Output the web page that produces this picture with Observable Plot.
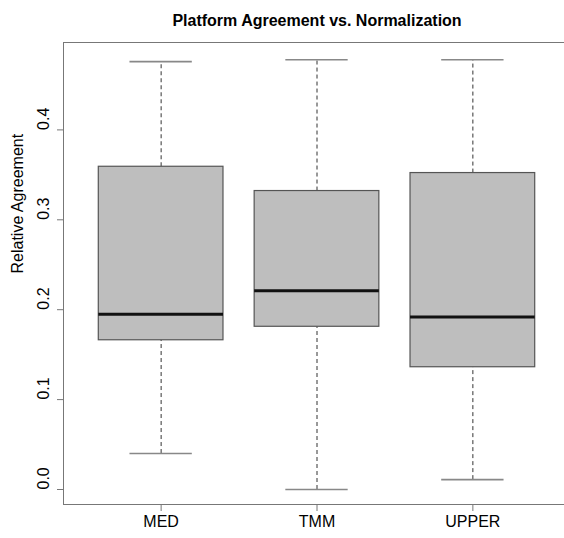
<!DOCTYPE html>
<html>
<head>
<meta charset="utf-8">
<script src="https://cdn.jsdelivr.net/npm/d3@7"></script>
<script src="https://cdn.jsdelivr.net/npm/@observablehq/plot@0.6"></script>
<style>
  html, body { margin: 0; padding: 0; background: #fff; overflow: hidden; }
  #chart { width: 564px; height: 538px; overflow: hidden; }
  #chart svg { display: block; max-width: none !important; }
</style>
</head>
<body>
<div id="chart"></div>
<script>
const title = "Platform Agreement vs. Normalization";
const yLabel = "Relative Agreement";
const categories = ["MED", "TMM", "UPPER"];
const whiskerLow  = [0.040, 0.000, 0.011];
const q1          = [0.166, 0.181, 0.136];
const median      = [0.195, 0.221, 0.192];
const q3          = [0.359, 0.332, 0.352];
const whiskerHigh = [0.476, 0.478, 0.478];
const yTicks = [0.0, 0.1, 0.2, 0.3, 0.4];

const rows = categories.map((c, i) => ({
  cat: c, pos: i + 1,
  lo: whiskerLow[i], q1: q1[i], med: median[i], q3: q3[i], hi: whiskerHigh[i]
}));

const font = "'Liberation Sans', Arial, Helvetica, sans-serif";
const boxHalf = 0.4, stapleHalf = 0.2;

const chart = Plot.plot({
  width: 580,
  height: 538,
  marginLeft: 63,
  marginRight: 0,
  marginTop: 42,
  marginBottom: 34,
  style: { fontFamily: font, background: "#fff", color: "#000", maxWidth: "none" },
  x: { type: "linear", domain: [0.38, 3.62], range: [64, 569] },
  y: { type: "linear", domain: [0, 0.4], range: [489, 129.4] },
  marks: [
    Plot.frame({ stroke: "#777", strokeWidth: 1, insetRight: -40 }),
    // whiskers (dashed)
    Plot.ruleX(rows, { x: "pos", y1: "q3", y2: "hi", stroke: "#333", strokeDasharray: "4,3", strokeWidth: 1 }),
    Plot.ruleX(rows, { x: "pos", y1: "lo", y2: "q1", stroke: "#333", strokeDasharray: "4,3", strokeWidth: 1 }),
    // staples
    Plot.ruleY(rows, { y: "hi", x1: d => d.pos - stapleHalf, x2: d => d.pos + stapleHalf, stroke: "#888", strokeWidth: 1.6 }),
    Plot.ruleY(rows, { y: "lo", x1: d => d.pos - stapleHalf, x2: d => d.pos + stapleHalf, stroke: "#888", strokeWidth: 1.6 }),
    // boxes
    Plot.rect(rows, { x1: d => d.pos - boxHalf, x2: d => d.pos + boxHalf, y1: "q1", y2: "q3", fill: "#bebebe", stroke: "#555", strokeWidth: 1.2 }),
    // medians
    Plot.ruleY(rows, { y: "med", x1: d => d.pos - boxHalf, x2: d => d.pos + boxHalf, stroke: "#111", strokeWidth: 3 }),
    // axes ticks
    Plot.axisY({ ticks: yTicks, tickSize: 6, tickFormat: () => "", label: null, stroke: "#777" }),
    Plot.axisX({ ticks: [1, 2, 3], tickSize: 7, tickFormat: () => "", label: null, stroke: "#777" }),
    // y tick labels (rotated, as in R)
    Plot.text(yTicks, { y: d => d, text: d => d.toFixed(1), frameAnchor: "left", dx: -20, rotate: -90, fontSize: 16, fill: "#000" }),
    // x category labels
    Plot.text(rows, { x: "pos", text: "cat", frameAnchor: "bottom", dy: 22, fontSize: 16, fill: "#000" }),
    // y axis title
    Plot.text([yLabel], { text: d => d, frameAnchor: "left", dx: -46, rotate: -90, fontSize: 16, fill: "#000" }),
    // main title
    Plot.text([title], { x: () => 2, text: d => d, frameAnchor: "top", dy: -28, fontSize: 16, fontWeight: "bold", fill: "#000" })
  ]
});
document.getElementById("chart").appendChild(chart);
</script>
</body>
</html>
